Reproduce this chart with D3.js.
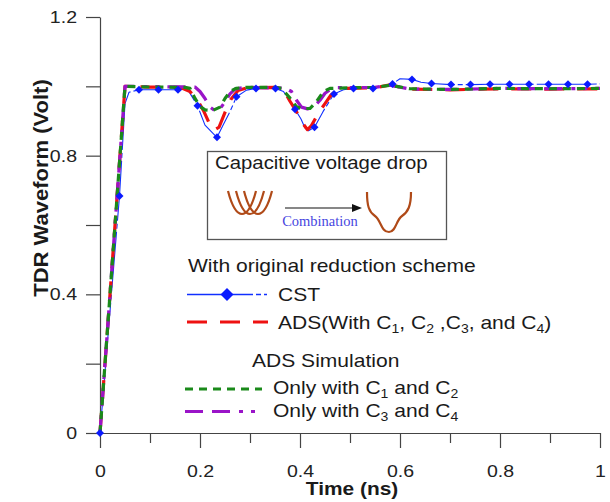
<!DOCTYPE html>
<html>
<head>
<meta charset="utf-8">
<script src="https://cdn.jsdelivr.net/npm/d3@7"></script>
<style>
  html, body { margin: 0; padding: 0; background: #fff; }
  svg { display: block; font-family: Arial, "Liberation Sans", sans-serif; }
</style>
</head>
<body>
<svg id="chart" width="610" height="502"></svg>
<script>
// ---------------- DATA ----------------
const yTicks = [0, 0.2, 0.4, 0.6, 0.8, 1.0, 1.2];
const yTickLabels = ["0", "", "0.4", "", "0.8", "", "1.2"];
const xMajorTicks = [0, 0.2, 0.4, 0.6, 0.8, 1.0];
const xMajorLabels = ["0", "0.2", "0.4", "0.6", "0.8", "1"];
const xMinorTicks = [0.1, 0.3, 0.5, 0.7, 0.9];

// CST (line samples)
const cstT = [0, 0.039, 0.05, 0.058, 0.078, 0.117, 0.156, 0.175, 0.195, 0.21, 0.225, 0.234, 0.246, 0.26, 0.273, 0.293, 0.312, 0.351, 0.367, 0.39, 0.402, 0.41, 0.417, 0.429, 0.446, 0.468, 0.487, 0.507, 0.546, 0.585, 0.6, 0.624, 0.642, 0.663, 0.702, 0.741, 0.78, 0.819, 0.858, 0.897, 0.936, 0.975, 1.0];
const cstV = [0, 0.684, 0.95, 0.983, 0.99, 0.99, 0.99, 0.992, 0.944, 0.888, 0.866, 0.853, 0.888, 0.927, 0.97, 0.989, 0.994, 0.994, 0.985, 0.934, 0.906, 0.88, 0.872, 0.882, 0.927, 0.978, 0.99, 0.994, 0.994, 1.007, 1.022, 1.02, 1.012, 1.008, 1.005, 1.005, 1.006, 1.006, 1.006, 1.006, 1.006, 1.006, 1.007];
// CST markers
const cstMarkT = [0, 0.039, 0.078, 0.117, 0.156, 0.195, 0.234, 0.273, 0.312, 0.351, 0.39, 0.429, 0.468, 0.507, 0.546, 0.585, 0.624, 0.663, 0.702, 0.741, 0.78, 0.819, 0.858, 0.897, 0.936, 0.975];
const cstMarkV = [0, 0.684, 0.99, 0.99, 0.99, 0.944, 0.853, 0.97, 0.994, 0.994, 0.934, 0.882, 0.978, 0.994, 0.994, 1.007, 1.02, 1.008, 1.005, 1.005, 1.006, 1.006, 1.006, 1.006, 1.006, 1.006];

// ADS with C1..C4 (red)
const adsT = [0, 0.05, 0.1, 0.16, 0.18, 0.195, 0.207, 0.218, 0.228, 0.238, 0.25, 0.262, 0.276, 0.295, 0.35, 0.366, 0.38, 0.393, 0.403, 0.415, 0.422, 0.43, 0.44, 0.45, 0.462, 0.475, 0.49, 0.55, 0.58, 0.62, 0.7, 0.8, 0.9, 1.0];
const adsV = [0, 1.0, 0.998, 0.997, 0.985, 0.96, 0.93, 0.895, 0.873, 0.882, 0.925, 0.963, 0.988, 0.996, 0.997, 0.993, 0.957, 0.927, 0.898, 0.875, 0.885, 0.905, 0.93, 0.95, 0.975, 0.989, 0.994, 0.996, 1.004, 0.992, 0.99, 0.993, 0.992, 0.993];

// Only C1, C2 (green)
const c12T = [0, 0.05, 0.1, 0.17, 0.18, 0.19, 0.2, 0.21, 0.225, 0.24, 0.25, 0.26, 0.272, 0.29, 0.35, 0.363, 0.38, 0.393, 0.403, 0.42, 0.433, 0.447, 0.46, 0.5, 0.55, 0.58, 0.62, 0.7, 0.8, 0.9, 1.0];
const c12V = [0, 1.0, 0.998, 0.997, 0.994, 0.965, 0.942, 0.932, 0.93, 0.94, 0.965, 0.985, 0.994, 0.997, 0.997, 0.994, 0.966, 0.941, 0.936, 0.936, 0.956, 0.985, 0.994, 0.996, 0.997, 1.003, 0.993, 0.991, 0.994, 0.993, 0.994];

// Only C3, C4 (purple)
const c34T = [0, 0.05, 0.1, 0.19, 0.2, 0.21, 0.22, 0.23, 0.24, 0.25, 0.26, 0.27, 0.29, 0.37, 0.383, 0.393, 0.403, 0.415, 0.427, 0.44, 0.45, 0.46, 0.475, 0.55, 0.58, 0.62, 0.7, 0.8, 0.9, 1.0];
const c34V = [0, 1.0, 0.999, 0.998, 0.985, 0.965, 0.94, 0.93, 0.935, 0.955, 0.978, 0.992, 0.997, 0.995, 0.985, 0.96, 0.94, 0.935, 0.94, 0.96, 0.98, 0.99, 0.996, 0.997, 1.003, 0.992, 0.991, 0.994, 0.993, 0.994];

// ---------------- CHART ----------------
const svg = d3.select("#chart");
const x = d3.scaleLinear().domain([0, 1]).range([100, 600]);
const y = d3.scaleLinear().domain([0, 1.2]).range([433, 17]);
const axisColor = "#444";
const textColor = "#1a1a1a";
const SX = 1.15; // horizontal stretch of the reference lettering

// Y axis
const gy = svg.append("g").attr("transform", "translate(100,0)")
  .call(d3.axisLeft(y).tickValues(yTicks).tickSize(14).tickSizeOuter(0)
    .tickFormat((d, i) => yTickLabels[i]));
// X axis (major)
const gx = svg.append("g").attr("transform", "translate(0,433)")
  .call(d3.axisBottom(x).tickValues(xMajorTicks).tickSize(15).tickSizeOuter(0)
    .tickFormat((d, i) => xMajorLabels[i]));
// X axis minor
const gxm = svg.append("g").attr("transform", "translate(0,433)")
  .call(d3.axisBottom(x).tickValues(xMinorTicks).tickSize(10).tickSizeOuter(0).tickFormat(""));
gxm.select(".domain").remove();

[gy, gx, gxm].forEach(g => {
  g.selectAll(".domain").attr("stroke", axisColor).attr("stroke-width", 1.2);
  g.selectAll(".tick line").attr("stroke", axisColor).attr("stroke-width", 1.2);
  g.selectAll(".tick text").attr("fill", "#222").attr("font-size", 17)
    .attr("font-family", "Arial, 'Liberation Sans', sans-serif")
    .attr("transform", `scale(${SX},1)`);
});
gy.selectAll(".tick text").attr("x", -23 / SX);
gx.selectAll(".tick text").attr("y", 32);

// helper for stretched text
function stext(parent, x0, y0, sx) {
  return parent.append("text").attr("transform", `translate(${x0},${y0}) scale(${sx},1)`);
}

// Axis titles
svg.append("text")
  .attr("transform", "translate(48,188) rotate(-90) scale(1.1,1)")
  .attr("text-anchor", "middle").attr("font-weight", "bold").attr("font-size", 20)
  .attr("fill", textColor).text("TDR Waveform (Volt)");
stext(svg, 352, 495, 1.1)
  .attr("text-anchor", "middle").attr("font-weight", "bold").attr("font-size", 19)
  .attr("fill", textColor).text("Time (ns)");

// Series styles
const styles = {
  cst: { color: "#1030ff", width: 1.1, dash: "60,3,5,3" },
  ads: { color: "#ee1111", width: 3.2, dash: "20,13" },
  c12: { color: "#1a8a1a", width: 3.2, dash: "8,6" },
  c34: { color: "#9a14c8", width: 3.2, dash: "18,9,18,9,4,8,4,8" }
};

const line = d3.line().x(d => x(d[0])).y(d => y(d[1]));
const zip = (a, b) => a.map((t, i) => [t, b[i]]);

function drawSeries(data, st) {
  svg.append("path").datum(data)
    .attr("d", line)
    .attr("fill", "none")
    .attr("stroke", st.color)
    .attr("stroke-width", st.width)
    .attr("stroke-dasharray", st.dash)
    .attr("stroke-linejoin", "round");
}

drawSeries(zip(cstT, cstV), styles.cst);
drawSeries(zip(adsT, adsV), styles.ads);
drawSeries(zip(c34T, c34V), styles.c34);
drawSeries(zip(c12T, c12V), styles.c12);

const diamond = r => `M0,${-r}L${r},0L0,${r}L${-r},0Z`;
svg.append("g").selectAll("path").data(zip(cstMarkT, cstMarkV)).join("path")
  .attr("transform", d => `translate(${x(d[0])},${y(d[1])})`)
  .attr("d", diamond(4))
  .attr("fill", "#0a1aff");

// ---------------- ANNOTATION BOX ----------------
const box = svg.append("g");
box.append("rect").attr("x", 207.5).attr("y", 151.5).attr("width", 239).attr("height", 88)
  .attr("fill", "#fff").attr("stroke", "#555").attr("stroke-width", 1.3);
stext(box, 215, 168.5, 1.1).attr("font-size", 18.5)
  .attr("fill", textColor).text("Capacitive voltage drop");
const brown = "#b04a18";
[242, 250, 258].forEach(cx => {
  box.append("path")
    .attr("d", `M${cx - 14},191 Q${cx - 8},214 ${cx},214 Q${cx + 8},214 ${cx + 14},191`)
    .attr("fill", "none").attr("stroke", brown).attr("stroke-width", 2.2);
});
box.append("line").attr("x1", 285).attr("y1", 208).attr("x2", 357).attr("y2", 208)
  .attr("stroke", "#111").attr("stroke-width", 1.2);
box.append("path").attr("d", "M362,208 L352,204 L352,212 Z").attr("fill", "#111");
box.append("text").attr("x", 320).attr("y", 226).attr("text-anchor", "middle")
  .attr("font-family", "'Liberation Serif', 'Times New Roman', serif").attr("font-size", 14.5)
  .attr("fill", "#4646e0").text("Combination");
box.append("path")
  .attr("d", "M367,192 C367,206 369,212 375,216 C381,220 381,232 389,232 C396,232 396,220 402,216 C408,212 411,206 411,192")
  .attr("fill", "none").attr("stroke", brown).attr("stroke-width", 2.2);

// ---------------- LEGEND ----------------
const leg = svg.append("g").attr("font-size", 18).attr("fill", textColor);
const LSX = 1.17;
stext(leg, 188, 272, LSX).text("With original reduction scheme");

function legendLine(y0, x1, x2, st) {
  leg.append("line").attr("x1", x1).attr("x2", x2).attr("y1", y0).attr("y2", y0)
    .attr("stroke", st.color).attr("stroke-width", st.width).attr("stroke-dasharray", st.dash);
}
function addSubText(el, parts) {
  let shift = 0;
  parts.forEach(p => {
    if (p.sub) {
      el.append("tspan").attr("font-size", 12).attr("dy", 4 - shift).text(p.sub);
      shift = 4;
    } else {
      el.append("tspan").attr("dy", -shift).text(p.t);
      shift = 0;
    }
  });
}

legendLine(294.5, 187, 267, { color: styles.cst.color, width: 1.3, dash: "66,3,5,3,4" });
leg.append("path").attr("transform", "translate(227,294.5)").attr("d", diamond(6.5)).attr("fill", "#0a1aff");
stext(leg, 278, 301, LSX).text("CST");

legendLine(322, 187, 268, styles.ads);
addSubText(stext(leg, 278, 328.5, LSX),
  [{ t: "ADS(With C" }, { sub: "1" }, { t: ", C" }, { sub: "2" }, { t: " ,C" }, { sub: "3" }, { t: ", and C" }, { sub: "4" }, { t: ")" }]);

stext(leg, 252, 366.5, LSX).text("ADS Simulation");
legendLine(389, 185, 262, styles.c12);
addSubText(stext(leg, 273, 394, LSX), [{ t: "Only with C" }, { sub: "1" }, { t: " and C" }, { sub: "2" }]);

legendLine(411.5, 185, 263, styles.c34);
addSubText(stext(leg, 273, 417, LSX), [{ t: "Only with C" }, { sub: "3" }, { t: " and C" }, { sub: "4" }]);
</script>
</body>
</html>
